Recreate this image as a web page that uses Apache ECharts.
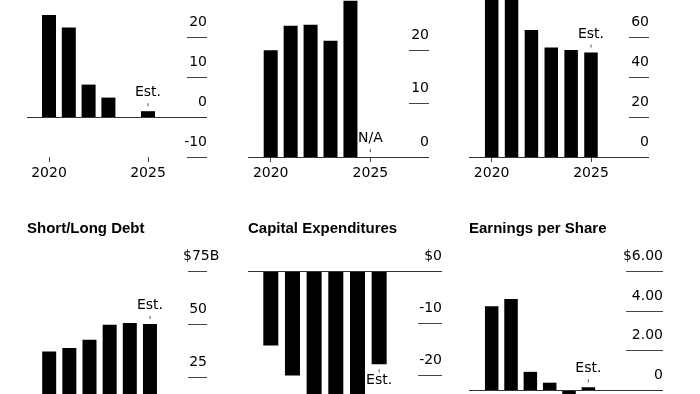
<!DOCTYPE html>
<html>
<head>
<meta charset="utf-8">
<script src="https://cdn.jsdelivr.net/npm/echarts@6/dist/echarts.min.js"></script>
<style>
html,body{margin:0;padding:0;background:#fff;}
#chart{width:700px;height:394px;}
</style>
</head>
<body>
<div id="chart"></div>
<script>
// ---- data ----
const years = [2020, 2021, 2022, 2023, 2024, 2025];
const xTickLabels = [2020, 2025];
const panelTitles = ['', '', '', 'Short/Long Debt', 'Capital Expenditures', 'Earnings per Share'];
const panel1Values = [25.5, 22.4, 8.1, 4.85, 0, 1.45];
const panel2Values = [20.0, 24.6, 24.8, 21.8, 29.3, 0];
const panel3Values = [82, 84, 63.5, 54.7, 53.5, 52.3];
const debtValues = [37.2, 38.8, 42.7, 49.8, 50.6, 50.1];
const capexValues = [-14.3, -20.1, -25.5, -27, -26, -17.9];
const epsValues = [4.24, 4.6, 0.92, 0.37, -0.3, 0.14];
const lastLabels = ['Est.', 'N/A', 'Est.', 'Est.', 'Est.', 'Est.'];

const FONT = 'DejaVu Sans';
const TITLE_FONT = 'Liberation Sans';

const panels = [
  {values: panel1Values, grid: {left: 27, width: 180, top: -3, height: 160}, x: [2018.889, 2027.98], y: {min: -10, max: 30, interval: 10}, tickLen: 20, barWidth: 14, fmt: v => String(v)},
  {values: panel2Values, grid: {left: 248, width: 181, top: -3, height: 160}, x: [2018.861, 2027.94], y: {min: 0, max: 30, interval: 10}, tickLen: 20, barWidth: 14, fmt: v => String(v)},
  {values: panel3Values, grid: {left: 469, width: 180, top: -3, height: 160}, x: [2018.858, 2027.92], y: {min: 0, max: 80, interval: 20}, tickLen: 20, barWidth: 13.5, fmt: v => String(v)},
  {values: debtValues, grid: {left: 27, width: 180, top: 271.3, height: 159}, x: [2018.899, 2027.83], y: {min: 0, max: 75, interval: 25}, tickLen: 19, barWidth: 14, fmt: v => v === 75 ? '{h|$75B}' : String(v)},
  {values: capexValues, grid: {left: 248, width: 194, top: 271.3, height: 155.6}, x: [2018.948, 2027.9], y: {min: -30, max: 0, interval: 10}, tickLen: 24, barWidth: 15, fmt: v => v === 0 ? '$0' : String(v), below: true},
  {values: epsValues, grid: {left: 469, width: 194, top: 271.3, height: 158.3}, x: [2018.826, 2028.86], y: {min: -2, max: 6, interval: 2}, tickLen: 37, barWidth: 13.5, fmt: v => v === 0 ? '0' : (v === 6 ? '$6.00' : v.toFixed(2))}
];

const labelRich = {
  t: {fontFamily: FONT, fontSize: 14, color: '#000', lineHeight: 14, padding: [0, 0, 7, 0]},
  t2: {fontFamily: FONT, fontSize: 14, color: '#000', lineHeight: 14, padding: [3, 0, 0, 0]},
  k: {width: 1, height: 3, backgroundColor: '#555'}
};

const option = {
  animation: false,
  backgroundColor: '#fff',
  title: panelTitles.map((t, i) => ({
    text: t,
    left: panels[i].grid.left,
    top: 221.5,
    padding: 0,
    textStyle: {fontFamily: TITLE_FONT, fontSize: 15, fontWeight: 'bold', color: '#000'}
  })).filter(t => t.text),
  grid: panels.map(p => Object.assign({outerBoundsMode: 'none'}, p.grid)),
  xAxis: panels.map((p, i) => ({
    type: 'value', gridIndex: i, min: p.x[0], max: p.x[1],
    axisLine: {show: false, onZero: false},
    splitLine: {show: false},
    axisTick: {show: true, length: 5, customValues: xTickLabels, lineStyle: {color: '#444'}},
    axisLabel: {show: true, customValues: xTickLabels, margin: 9, fontFamily: FONT, fontSize: 14, color: '#000', formatter: v => String(v)}
  })),
  yAxis: panels.map((p, i) => ({
    type: 'value', gridIndex: i, position: 'right',
    min: p.y.min, max: p.y.max, interval: p.y.interval,
    axisLine: {show: false},
    splitLine: {show: false},
    axisTick: {show: true, inside: true, length: p.tickLen, lineStyle: {color: '#444'}},
    axisLabel: {
      show: true, inside: true, margin: 0, align: 'right', verticalAlign: 'bottom',
      padding: [0, 0, 7, 0], lineHeight: 16,
      fontFamily: FONT, fontSize: 14, color: '#000',
      formatter: p.fmt,
      rich: {h: {width: 24, align: 'left', fontFamily: FONT, fontSize: 14, color: '#000', lineHeight: 16}}
    }
  })),
  series: panels.map((p, i) => ({
    type: 'bar', xAxisIndex: i, yAxisIndex: i,
    barWidth: p.barWidth,
    itemStyle: {color: '#000'},
    data: p.values.map((v, j) => {
      if (j === years.length - 1) {
        return {
          value: [years[j], v],
          label: {
            show: true,
            position: p.below ? 'bottom' : 'top',
            distance: 5,
            formatter: p.below ? '{k|}\n{t2|' + lastLabels[i] + '}' : '{t|' + lastLabels[i] + '}\n{k|}',
            rich: labelRich
          }
        };
      }
      return [years[j], v];
    }),
    markLine: {
      silent: true, symbol: 'none', animation: false,
      label: {show: false},
      lineStyle: {color: '#333', width: 1, type: 'solid'},
      data: [{yAxis: 0}]
    }
  }))
};

const chart = echarts.init(document.getElementById('chart'), null, {renderer: 'canvas'});
chart.setOption(option);
</script>
</body>
</html>
